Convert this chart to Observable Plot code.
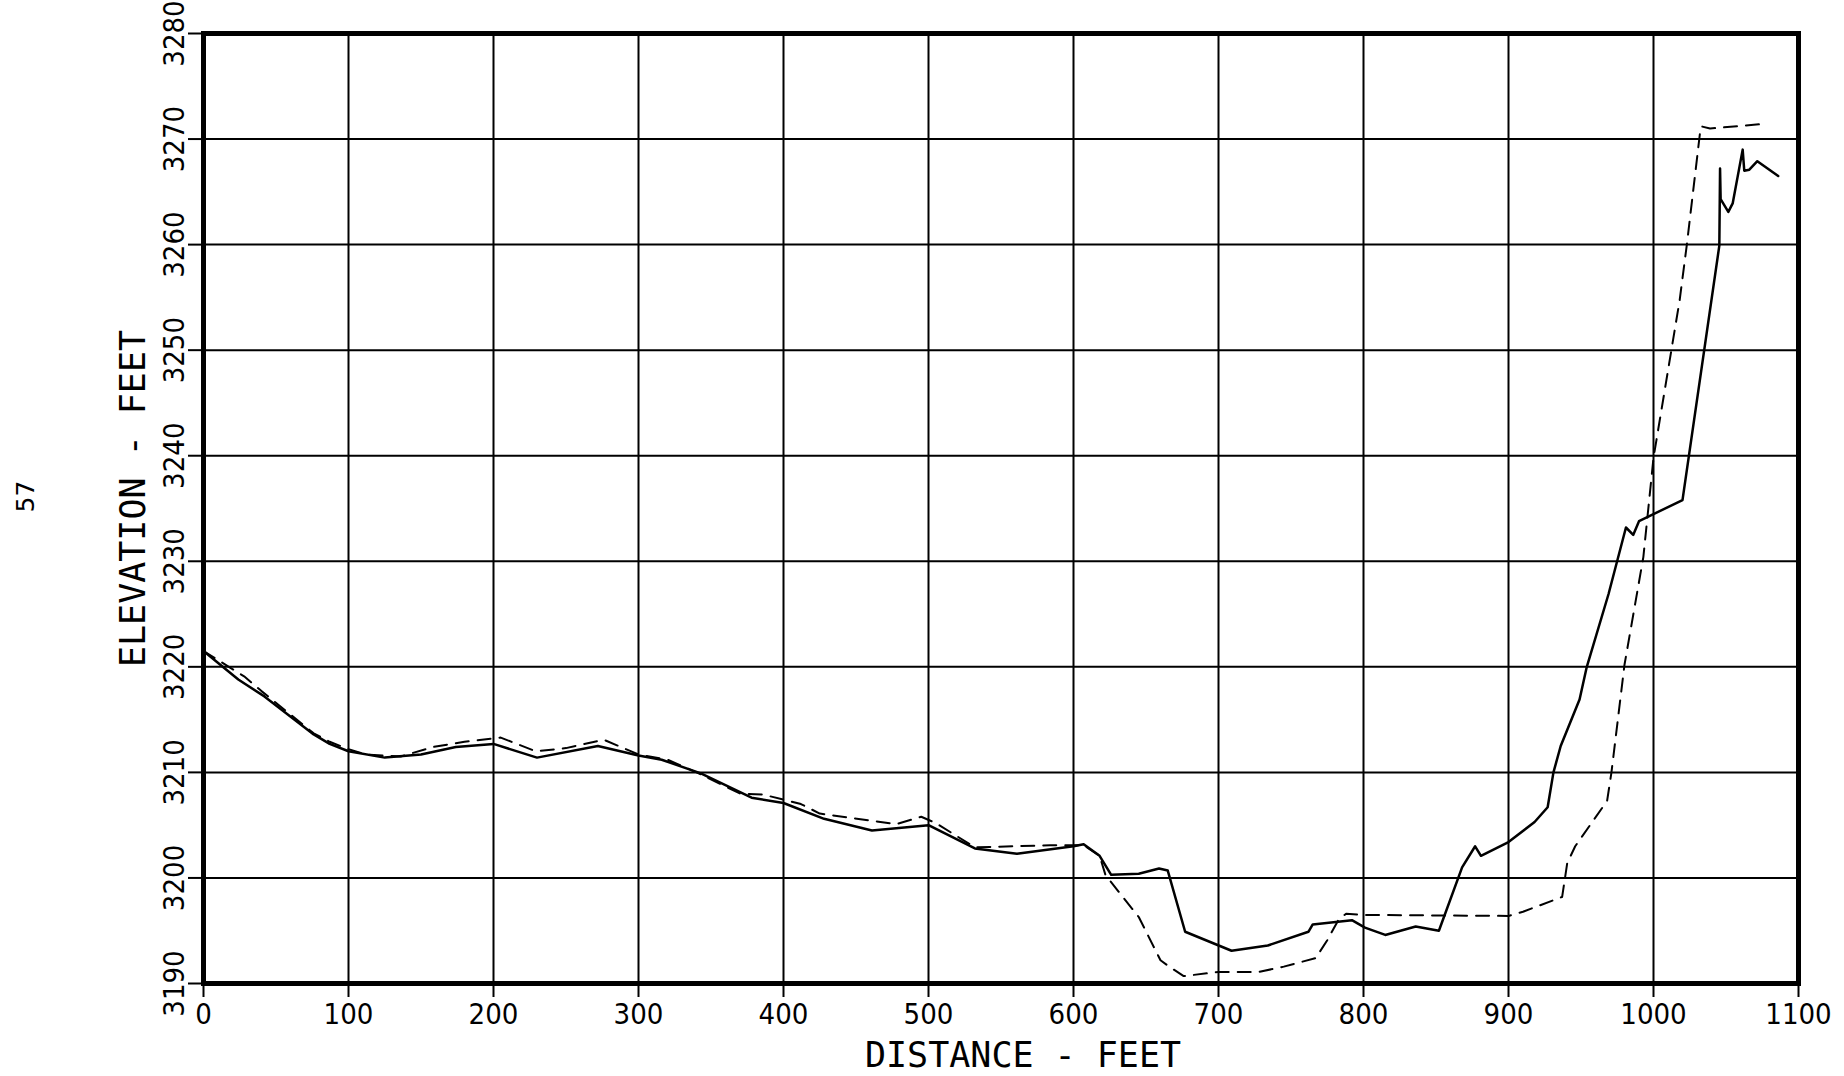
<!DOCTYPE html>
<html>
<head>
<meta charset="utf-8">
<script src="https://cdn.jsdelivr.net/npm/d3@7"></script>
<script src="https://cdn.jsdelivr.net/npm/@observablehq/plot@0.6"></script>
<style>
  html, body { margin: 0; padding: 0; background: #fff; }
  #chart svg { display: block; }
</style>
</head>
<body>
<div id="chart"></div>
<script>
// ---- Data ----
const distanceTicks = [0, 100, 200, 300, 400, 500, 600, 700, 800, 900, 1000, 1100];
const elevationTicks = [3190, 3200, 3210, 3220, 3230, 3240, 3250, 3260, 3270, 3280];

// Solid profile
const solidDistance = [0, 24, 42, 76, 87, 100, 125, 150, 174, 200, 230, 272, 300, 316, 343, 378, 400, 428, 461, 500,
  532, 561, 600, 607, 618, 626, 645, 659, 665, 677, 709, 734, 762, 765, 792, 801, 815, 836, 852, 868,
  877, 881, 900, 918, 927, 931, 936, 949, 954, 969, 981, 986, 990, 1020, 1045.4, 1045.9, 1046.3, 1051.6, 1054.6, 1061.5,
  1062.6, 1066.1, 1071.6, 1086];
const solidElevation = [3221.5, 3218.8, 3217.2, 3213.6, 3212.7, 3212.0, 3211.4, 3211.7, 3212.4, 3212.7, 3211.4, 3212.5, 3211.6, 3211.2, 3209.9, 3207.6, 3207.1, 3205.6, 3204.5, 3205.0,
  3202.8, 3202.3, 3203.0, 3203.2, 3202.1, 3200.3, 3200.4, 3200.9, 3200.7, 3194.9, 3193.1, 3193.6, 3194.9, 3195.6, 3196.0, 3195.3, 3194.6, 3195.4, 3195.0, 3201.0,
  3203.0, 3202.1, 3203.4, 3205.3, 3206.7, 3210.0, 3212.5, 3216.9, 3220.0, 3226.9, 3233.2, 3232.5, 3233.8, 3235.8, 3259.9, 3267.2, 3264.3, 3263.1, 3263.9, 3269.0,
  3267.0, 3267.1, 3267.9, 3266.5];

// Dashed profile
const dashedDistance = [0, 28, 40, 76, 87, 100, 112, 136, 158, 180, 205, 229, 250, 276, 300, 320, 340, 370, 386, 412,
  425, 478, 495, 505, 532, 584, 607, 618, 622, 634, 645, 660, 666, 676, 700, 728, 745, 767, 775, 783,
  788, 800, 900, 910, 937, 940.5, 946, 968, 971, 980, 993, 1000, 1018, 1023, 1032, 1033, 1039, 1073];
const dashedElevation = [3221.5, 3219.1, 3217.7, 3213.7, 3212.9, 3212.2, 3211.7, 3211.5, 3212.4, 3212.9, 3213.3, 3212.0, 3212.3, 3213.1, 3211.7, 3211.2, 3210.0, 3208.0, 3207.9, 3207.0,
  3206.1, 3205.1, 3205.8, 3205.2, 3202.9, 3203.1, 3203.1, 3202.1, 3200.3, 3198.2, 3196.3, 3192.2, 3191.6, 3190.7, 3191.1, 3191.1, 3191.6, 3192.4, 3194.1, 3196.1,
  3196.6, 3196.5, 3196.4, 3196.8, 3198.2, 3201.4, 3203.0, 3207.3, 3210.0, 3220.2, 3230.4, 3239.8, 3254.7, 3260.0, 3270.5, 3271.2, 3271.0, 3271.4];

const xTitle = "DISTANCE - FEET";
const yTitle = "ELEVATION - FEET";
const pageNumber = "57";

// ---- Tables built from the arrays ----
const solid = solidDistance.map((d, i) => ({distance: d, elevation: solidElevation[i]}));
const dashed = dashedDistance.map((d, i) => ({distance: d, elevation: dashedElevation[i]}));

const tickFont = "'Liberation Sans Narrow', 'DejaVu Sans Condensed', 'DejaVu Sans', sans-serif";
const titleFont = "'DejaVu Sans Mono', 'Liberation Mono', monospace";

const chart = Plot.plot({
  width: 1844,
  height: 1076,
  marginLeft: 203,
  marginRight: 46,
  marginTop: 33,
  marginBottom: 93,
  style: {background: "#fff", color: "#000", fontFamily: tickFont},
  x: {domain: [0, 1100]},
  y: {domain: [3190, 3280]},
  marks: [
    Plot.gridX(distanceTicks, {stroke: "#000", strokeOpacity: 1, strokeWidth: 2}),
    Plot.gridY(elevationTicks, {stroke: "#000", strokeOpacity: 1, strokeWidth: 2}),
    Plot.axisX({
      ticks: distanceTicks, tickFormat: d => String(d), tickSize: 14, tickPadding: 6,
      strokeWidth: 2, fontSize: 29, fontFamily: tickFont, label: null
    }),
    Plot.axisY({
      ticks: elevationTicks, tickFormat: d => String(d), tickSize: 15, tickPadding: 5, tickRotate: -90,
      strokeWidth: 2, fontSize: 29, fontFamily: tickFont, label: null
    }),
    Plot.line(dashed, {x: "distance", y: "elevation", stroke: "#000", strokeWidth: 2, strokeDasharray: "13,9"}),
    Plot.line(solid, {x: "distance", y: "elevation", stroke: "#000", strokeWidth: 2.5, strokeLinejoin: "round"}),
    Plot.frame({stroke: "#000", strokeWidth: 5}),
    Plot.text([xTitle], {frameAnchor: "bottom", textAnchor: "middle", lineAnchor: "bottom", dx: 22, dy: 83,
      fontSize: 35, fontFamily: titleFont, fontWeight: 300, fill: "#000", text: d => d}),
    Plot.text([yTitle], {frameAnchor: "left", textAnchor: "middle", lineAnchor: "middle", rotate: -90, dx: -70, dy: -10,
      fontSize: 35, fontFamily: titleFont, fontWeight: 300, fill: "#000", text: d => d}),
    Plot.text([pageNumber], {frameAnchor: "left", textAnchor: "middle", lineAnchor: "middle", rotate: -90, dx: -178, dy: -12,
      fontSize: 25, fontFamily: "'DejaVu Sans', sans-serif", fill: "#000", text: d => d})
  ]
});
document.getElementById("chart").append(chart);
</script>
</body>
</html>
